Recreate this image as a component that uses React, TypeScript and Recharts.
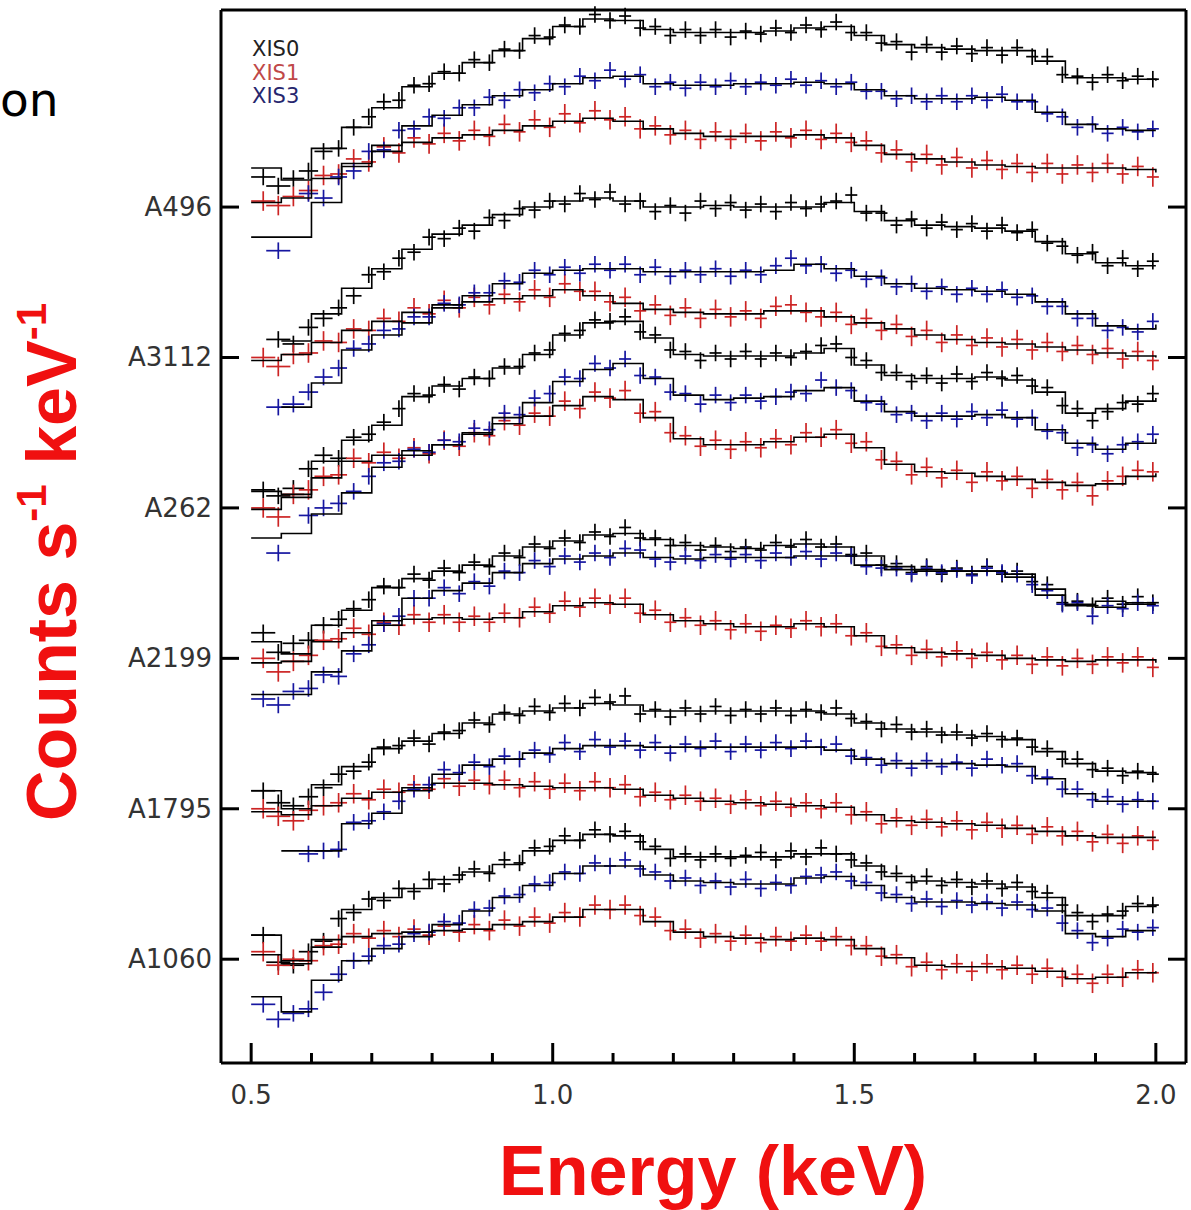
import React from "react"
import { ComposedChart, Scatter, Line, XAxis, YAxis, ErrorBar } from "recharts"

// energy grid of the data bins (keV) and of the model steps
const ENERGY = [
  0.52, 0.545, 0.57, 0.595, 0.62, 0.645, 0.67, 0.695, 0.72, 0.745,
  0.77, 0.795, 0.82, 0.845, 0.87, 0.895, 0.92, 0.945, 0.97, 0.995,
  1.02, 1.045, 1.07, 1.095, 1.12, 1.145, 1.17, 1.195, 1.22, 1.245,
  1.27, 1.295, 1.32, 1.345, 1.37, 1.395, 1.42, 1.445, 1.47, 1.495,
  1.52, 1.545, 1.57, 1.595, 1.62, 1.645, 1.67, 1.695, 1.72, 1.745,
  1.77, 1.795, 1.82, 1.845, 1.87, 1.895, 1.92, 1.945, 1.97, 1.995,
]
// half width of each energy bin (keV)
const BIN_HALF = [
  0.02, 0.02, 0.018, 0.016, 0.015, 0.014, 0.013, 0.012, 0.012, 0.011,
  0.011, 0.011, 0.011, 0.011, 0.01, 0.01, 0.01, 0.01, 0.01, 0.01,
  0.01, 0.01, 0.01, 0.01, 0.01, 0.01, 0.01, 0.01, 0.01, 0.01,
  0.01, 0.01, 0.01, 0.01, 0.01, 0.01, 0.01, 0.01, 0.01, 0.01,
  0.01, 0.01, 0.01, 0.01, 0.01, 0.01, 0.01, 0.01, 0.01, 0.01,
  0.01, 0.01, 0.01, 0.01, 0.01, 0.01, 0.01, 0.01, 0.01, 0.01,
]
const MODEL_ENERGY = [
  0.5, 0.55, 0.6, 0.65, 0.7, 0.75, 0.8, 0.85, 0.9, 0.95,
  1.0, 1.05, 1.1, 1.15, 1.2, 1.25, 1.3, 1.35, 1.4, 1.45,
  1.5, 1.55, 1.6, 1.65, 1.7, 1.75, 1.8, 1.85, 1.9, 1.95, 2.0,
]

const CLUSTERS = ["A1060", "A1795", "A2199", "A262", "A3112", "A496"]
const Y_TICKS = [1, 2, 3, 4, 5, 6] // offset of each cluster spectrum
const X_TICKS = [0.5, 0.6, 0.7, 0.8, 0.9, 1.0, 1.1, 1.2, 1.3, 1.4, 1.5, 1.6, 1.7, 1.8, 1.9, 2.0]
const X_MAJOR = [0.5, 1.0, 1.5, 2.0]
const X_LABELS = ["0.5", "1.0", "1.5", "2.0"]

const DETECTORS = ["XIS0", "XIS1", "XIS3"]
const DET_COLORS = ["#000000", "#cc2424", "#1616a0"]
const LEGEND_COLORS = ["#222222", "#c04848", "#26266e"]
const ERR_Y = [0.055, 0.065, 0.055]

// spectra, relative to the cluster offset (null = no bin)
const A1060_XIS0 = [0.16, -0.02, -0.04, 0.05, 0.12, 0.27, 0.31, 0.40, 0.39, 0.47, 0.45, 0.53, 0.50, 0.56, 0.60, 0.57, 0.66, 0.64, 0.74, 0.75, 0.82, 0.79, 0.86, 0.83, 0.85, 0.78, 0.75, 0.67, 0.70, 0.66, 0.70, 0.67, 0.69, 0.71, 0.66, 0.72, 0.68, 0.74, 0.70, 0.66, 0.64, 0.58, 0.57, 0.51, 0.55, 0.49, 0.53, 0.48, 0.52, 0.47, 0.51, 0.45, 0.44, 0.36, 0.31, 0.25, 0.30, 0.32, 0.37, 0.36]
const A1060_XIS1 = [0.05, -0.04, 0.00, -0.01, 0.09, 0.10, 0.17, 0.14, 0.19, 0.15, 0.20, 0.16, 0.22, 0.18, 0.23, 0.19, 0.26, 0.22, 0.28, 0.24, 0.31, 0.28, 0.36, 0.33, 0.36, 0.29, 0.28, 0.19, 0.20, 0.14, 0.17, 0.12, 0.16, 0.11, 0.15, 0.12, 0.16, 0.12, 0.15, 0.09, 0.09, 0.02, 0.03, -0.05, -0.02, -0.07, -0.03, -0.08, -0.03, -0.07, -0.04, -0.10, -0.06, -0.12, -0.10, -0.16, -0.10, -0.12, -0.07, -0.09]
const A1060_XIS3 = [-0.30, -0.40, -0.36, -0.33, -0.22, -0.10, -0.01, 0.02, 0.09, 0.10, 0.17, 0.18, 0.25, 0.24, 0.33, 0.34, 0.42, 0.43, 0.50, 0.51, 0.58, 0.57, 0.64, 0.62, 0.66, 0.60, 0.58, 0.52, 0.54, 0.49, 0.52, 0.48, 0.53, 0.47, 0.51, 0.49, 0.55, 0.56, 0.58, 0.52, 0.51, 0.44, 0.43, 0.37, 0.40, 0.35, 0.39, 0.36, 0.38, 0.34, 0.38, 0.33, 0.34, 0.24, 0.19, 0.11, 0.14, 0.20, 0.18, 0.21]

const A1795_XIS0 = [0.12, 0.04, 0.02, 0.08, 0.14, 0.23, 0.25, 0.31, 0.41, 0.42, 0.47, 0.43, 0.51, 0.52, 0.59, 0.56, 0.64, 0.62, 0.68, 0.64, 0.70, 0.67, 0.74, 0.71, 0.75, 0.63, 0.66, 0.61, 0.67, 0.63, 0.68, 0.62, 0.66, 0.63, 0.67, 0.62, 0.66, 0.64, 0.67, 0.60, 0.58, 0.53, 0.56, 0.51, 0.53, 0.49, 0.51, 0.47, 0.50, 0.46, 0.47, 0.41, 0.40, 0.33, 0.33, 0.26, 0.27, 0.22, 0.25, 0.23]
const A1795_XIS1 = [0.00, -0.05, -0.08, -0.01, 0.02, 0.04, 0.10, 0.06, 0.13, 0.11, 0.16, 0.13, 0.20, 0.15, 0.19, 0.16, 0.19, 0.14, 0.18, 0.13, 0.17, 0.12, 0.18, 0.14, 0.16, 0.08, 0.11, 0.06, 0.09, 0.05, 0.07, 0.03, 0.06, 0.02, 0.05, 0.01, 0.04, 0.00, 0.04, -0.04, -0.02, -0.10, -0.06, -0.11, -0.07, -0.12, -0.08, -0.14, -0.09, -0.13, -0.11, -0.17, -0.12, -0.18, -0.15, -0.22, -0.17, -0.23, -0.18, -0.21]
const A1795_XIS3 = [null, null, null, -0.30, -0.28, -0.27, -0.09, -0.08, -0.02, 0.05, 0.13, 0.16, 0.26, 0.24, 0.31, 0.28, 0.35, 0.33, 0.39, 0.36, 0.44, 0.38, 0.46, 0.41, 0.45, 0.39, 0.44, 0.37, 0.43, 0.40, 0.45, 0.38, 0.43, 0.39, 0.44, 0.40, 0.45, 0.41, 0.43, 0.35, 0.34, 0.29, 0.32, 0.27, 0.32, 0.28, 0.31, 0.27, 0.33, 0.29, 0.30, 0.22, 0.21, 0.13, 0.13, 0.06, 0.08, 0.03, 0.06, 0.05]

const A2199_XIS0 = [0.17, 0.04, 0.10, 0.12, 0.22, 0.26, 0.33, 0.39, 0.48, 0.47, 0.56, 0.52, 0.60, 0.57, 0.64, 0.61, 0.70, 0.67, 0.76, 0.73, 0.80, 0.77, 0.84, 0.81, 0.87, 0.80, 0.80, 0.75, 0.77, 0.72, 0.75, 0.71, 0.74, 0.72, 0.77, 0.74, 0.79, 0.74, 0.76, 0.69, 0.70, 0.62, 0.63, 0.57, 0.61, 0.56, 0.60, 0.56, 0.61, 0.56, 0.58, 0.51, 0.49, 0.37, 0.38, 0.35, 0.40, 0.36, 0.41, 0.37]
const A2199_XIS1 = [0.00, -0.09, -0.02, 0.02, 0.12, 0.13, 0.20, 0.16, 0.24, 0.22, 0.29, 0.24, 0.29, 0.24, 0.28, 0.24, 0.30, 0.27, 0.34, 0.30, 0.38, 0.34, 0.40, 0.36, 0.40, 0.30, 0.32, 0.24, 0.27, 0.22, 0.25, 0.19, 0.23, 0.18, 0.22, 0.20, 0.25, 0.21, 0.23, 0.15, 0.17, 0.08, 0.09, 0.02, 0.06, 0.01, 0.05, 0.00, 0.04, -0.01, 0.02, -0.04, 0.01, -0.05, 0.00, -0.04, 0.01, -0.03, 0.01, -0.06]
const A2199_XIS3 = [-0.27, -0.31, -0.22, -0.20, -0.11, -0.12, 0.03, 0.09, 0.23, 0.28, 0.40, 0.40, 0.47, 0.43, 0.51, 0.48, 0.58, 0.57, 0.65, 0.61, 0.68, 0.64, 0.70, 0.67, 0.73, 0.72, 0.66, 0.64, 0.68, 0.65, 0.69, 0.66, 0.69, 0.65, 0.70, 0.67, 0.71, 0.66, 0.70, 0.68, 0.61, 0.60, 0.60, 0.56, 0.60, 0.57, 0.59, 0.55, 0.60, 0.57, 0.56, 0.49, 0.45, 0.36, 0.37, 0.28, 0.35, 0.33, 0.37, 0.35]

const A262_XIS0 = [0.12, 0.08, 0.13, 0.26, 0.35, 0.33, 0.47, 0.49, 0.57, 0.66, 0.76, 0.75, 0.82, 0.79, 0.87, 0.86, 0.94, 0.94, 1.03, 1.05, 1.16, 1.18, 1.25, 1.24, 1.27, 1.17, 1.15, 1.05, 1.04, 0.98, 1.03, 0.99, 1.04, 0.99, 1.03, 1.00, 1.04, 1.08, 1.09, 1.00, 0.98, 0.90, 0.90, 0.84, 0.88, 0.83, 0.89, 0.84, 0.90, 0.86, 0.88, 0.81, 0.80, 0.68, 0.66, 0.58, 0.64, 0.70, 0.69, 0.76]
const A262_XIS1 = [0.00, -0.06, 0.09, 0.12, 0.21, 0.22, 0.33, 0.30, 0.37, 0.33, 0.40, 0.36, 0.45, 0.41, 0.50, 0.48, 0.58, 0.55, 0.63, 0.61, 0.71, 0.66, 0.77, 0.73, 0.78, 0.63, 0.64, 0.50, 0.48, 0.41, 0.45, 0.39, 0.44, 0.40, 0.46, 0.42, 0.50, 0.47, 0.52, 0.43, 0.44, 0.32, 0.31, 0.22, 0.27, 0.20, 0.25, 0.17, 0.24, 0.18, 0.21, 0.13, 0.19, 0.12, 0.17, 0.08, 0.18, 0.21, 0.25, 0.24]
const A262_XIS3 = [null, -0.30, null, -0.05, 0.00, 0.03, 0.11, 0.21, 0.30, 0.31, 0.39, 0.37, 0.45, 0.44, 0.53, 0.52, 0.63, 0.62, 0.73, 0.76, 0.87, 0.86, 0.96, 0.93, 0.99, 0.88, 0.87, 0.77, 0.76, 0.69, 0.75, 0.70, 0.75, 0.71, 0.74, 0.77, 0.76, 0.85, 0.80, 0.78, 0.70, 0.69, 0.62, 0.63, 0.58, 0.63, 0.59, 0.64, 0.60, 0.65, 0.59, 0.60, 0.51, 0.50, 0.40, 0.42, 0.36, 0.42, 0.44, 0.49]

const A3112_XIS0 = [null, 0.12, 0.09, 0.20, 0.26, 0.33, 0.41, 0.55, 0.57, 0.66, 0.70, 0.80, 0.79, 0.86, 0.84, 0.93, 0.91, 0.99, 0.98, 1.04, 1.02, 1.09, 1.05, 1.10, 1.02, 1.04, 0.97, 1.01, 0.96, 1.04, 0.99, 1.03, 0.98, 1.02, 0.97, 1.03, 0.99, 1.02, 1.04, 1.08, 0.96, 0.96, 0.88, 0.92, 0.86, 0.90, 0.85, 0.89, 0.84, 0.88, 0.83, 0.85, 0.76, 0.74, 0.68, 0.70, 0.61, 0.66, 0.59, 0.64]
const A3112_XIS1 = [0.00, -0.06, 0.02, 0.03, 0.11, 0.10, 0.19, 0.18, 0.26, 0.24, 0.33, 0.29, 0.38, 0.33, 0.40, 0.35, 0.42, 0.37, 0.45, 0.40, 0.49, 0.44, 0.44, 0.37, 0.40, 0.31, 0.35, 0.28, 0.33, 0.26, 0.32, 0.27, 0.31, 0.26, 0.34, 0.35, 0.30, 0.27, 0.30, 0.22, 0.26, 0.18, 0.22, 0.14, 0.18, 0.10, 0.15, 0.08, 0.13, 0.07, 0.12, 0.05, 0.10, 0.04, 0.08, 0.02, 0.06, -0.01, 0.04, -0.02]
const A3112_XIS3 = [null, -0.33, -0.31, -0.23, -0.13, -0.07, 0.06, 0.09, 0.18, 0.19, 0.27, 0.27, 0.36, 0.35, 0.43, 0.43, 0.51, 0.50, 0.58, 0.55, 0.60, 0.56, 0.62, 0.58, 0.62, 0.55, 0.60, 0.54, 0.58, 0.55, 0.59, 0.54, 0.58, 0.55, 0.61, 0.66, 0.61, 0.62, 0.56, 0.58, 0.52, 0.53, 0.47, 0.49, 0.44, 0.47, 0.42, 0.46, 0.42, 0.45, 0.40, 0.41, 0.34, 0.34, 0.26, 0.26, 0.18, 0.20, 0.17, 0.24]

const A496_XIS0 = [0.20, 0.14, 0.19, 0.24, 0.37, 0.39, 0.53, 0.60, 0.70, 0.71, 0.81, 0.82, 0.90, 0.89, 0.98, 0.96, 1.05, 1.04, 1.14, 1.13, 1.21, 1.20, 1.28, 1.24, 1.27, 1.19, 1.20, 1.14, 1.18, 1.14, 1.18, 1.13, 1.17, 1.15, 1.19, 1.16, 1.21, 1.18, 1.23, 1.16, 1.16, 1.09, 1.10, 1.03, 1.08, 1.03, 1.07, 1.02, 1.06, 1.01, 1.06, 1.00, 1.00, 0.88, 0.87, 0.83, 0.88, 0.84, 0.87, 0.85]
const A496_XIS1 = [0.04, 0.01, 0.07, 0.11, 0.21, 0.22, 0.32, 0.30, 0.40, 0.36, 0.46, 0.42, 0.49, 0.44, 0.51, 0.47, 0.55, 0.50, 0.58, 0.53, 0.62, 0.56, 0.64, 0.58, 0.60, 0.52, 0.54, 0.48, 0.51, 0.45, 0.50, 0.45, 0.49, 0.44, 0.50, 0.46, 0.51, 0.45, 0.49, 0.43, 0.44, 0.36, 0.38, 0.30, 0.35, 0.28, 0.33, 0.26, 0.31, 0.25, 0.29, 0.23, 0.29, 0.22, 0.28, 0.23, 0.29, 0.22, 0.27, 0.20]
const A496_XIS3 = [null, -0.29, null, 0.09, 0.06, 0.20, 0.24, 0.37, 0.38, 0.51, 0.52, 0.60, 0.59, 0.66, 0.66, 0.73, 0.71, 0.78, 0.76, 0.82, 0.80, 0.87, 0.84, 0.91, 0.85, 0.88, 0.80, 0.83, 0.79, 0.83, 0.80, 0.84, 0.80, 0.83, 0.81, 0.85, 0.81, 0.84, 0.80, 0.83, 0.77, 0.77, 0.72, 0.74, 0.70, 0.74, 0.70, 0.74, 0.71, 0.75, 0.70, 0.70, 0.62, 0.60, 0.53, 0.55, 0.49, 0.53, 0.50, 0.52]

// folded models (step per MODEL_ENERGY bin)
const A1060_XIS0_M = [0.16, -0.03, 0.13, 0.33, 0.41, 0.47, 0.53, 0.58, 0.63, 0.72, 0.79, 0.83, 0.82, 0.73, 0.68, 0.68, 0.68, 0.68, 0.70, 0.70, 0.62, 0.55, 0.52, 0.51, 0.50, 0.48, 0.41, 0.29, 0.29, 0.35, 0.36]
const A1060_XIS1_M = [0.03, -0.01, 0.08, 0.15, 0.17, 0.18, 0.19, 0.20, 0.23, 0.25, 0.28, 0.33, 0.33, 0.25, 0.18, 0.15, 0.14, 0.13, 0.14, 0.13, 0.07, 0.01, -0.04, -0.05, -0.05, -0.06, -0.08, -0.13, -0.12, -0.09, -0.08]
const A1060_XIS3_M = [-0.25, -0.35, -0.14, -0.01, 0.07, 0.15, 0.23, 0.32, 0.41, 0.49, 0.57, 0.62, 0.62, 0.56, 0.52, 0.51, 0.50, 0.50, 0.54, 0.55, 0.49, 0.41, 0.38, 0.38, 0.37, 0.36, 0.32, 0.17, 0.15, 0.19, 0.19]

const A1795_XIS0_M = [0.12, 0.00, 0.16, 0.28, 0.40, 0.45, 0.50, 0.57, 0.63, 0.65, 0.67, 0.70, 0.69, 0.65, 0.65, 0.65, 0.65, 0.65, 0.65, 0.63, 0.57, 0.53, 0.51, 0.49, 0.48, 0.46, 0.38, 0.30, 0.25, 0.24, 0.23]
const A1795_XIS1_M = [-0.02, -0.04, 0.02, 0.07, 0.11, 0.14, 0.17, 0.17, 0.16, 0.15, 0.14, 0.14, 0.13, 0.09, 0.07, 0.05, 0.04, 0.03, 0.02, 0.01, -0.04, -0.08, -0.09, -0.10, -0.11, -0.13, -0.15, -0.18, -0.19, -0.19, -0.19]
const A1795_XIS3_M = [null, -0.28, -0.28, -0.10, -0.03, 0.12, 0.23, 0.29, 0.33, 0.37, 0.40, 0.42, 0.42, 0.41, 0.41, 0.41, 0.41, 0.41, 0.41, 0.39, 0.33, 0.30, 0.30, 0.30, 0.29, 0.28, 0.20, 0.10, 0.05, 0.05, 0.05]

const A2199_XIS0_M = [0.11, 0.03, 0.22, 0.32, 0.47, 0.53, 0.58, 0.62, 0.68, 0.74, 0.78, 0.82, 0.83, 0.79, 0.75, 0.74, 0.73, 0.75, 0.76, 0.74, 0.68, 0.61, 0.59, 0.58, 0.58, 0.56, 0.46, 0.36, 0.38, 0.37, 0.37]
const A2199_XIS1_M = [-0.03, -0.02, 0.11, 0.17, 0.22, 0.26, 0.27, 0.26, 0.27, 0.31, 0.35, 0.37, 0.36, 0.29, 0.25, 0.23, 0.21, 0.21, 0.23, 0.21, 0.15, 0.07, 0.04, 0.03, 0.02, 0.00, -0.01, -0.02, -0.01, -0.01, -0.03]
const A2199_XIS3_M = [-0.24, -0.24, -0.09, 0.05, 0.25, 0.40, 0.45, 0.50, 0.57, 0.63, 0.66, 0.68, 0.70, 0.67, 0.66, 0.67, 0.67, 0.67, 0.68, 0.68, 0.62, 0.59, 0.58, 0.58, 0.58, 0.54, 0.42, 0.35, 0.34, 0.36, 0.36]

const A262_XIS0_M = [0.11, 0.09, 0.31, 0.45, 0.55, 0.74, 0.81, 0.86, 0.93, 1.02, 1.15, 1.23, 1.24, 1.13, 1.02, 1.01, 1.01, 1.01, 1.03, 1.06, 0.95, 0.88, 0.86, 0.86, 0.87, 0.85, 0.77, 0.63, 0.66, 0.71, 0.73]
const A262_XIS1_M = [-0.01, 0.07, 0.20, 0.31, 0.35, 0.38, 0.42, 0.49, 0.56, 0.61, 0.68, 0.74, 0.72, 0.60, 0.46, 0.42, 0.42, 0.44, 0.47, 0.49, 0.40, 0.29, 0.24, 0.23, 0.21, 0.19, 0.17, 0.15, 0.16, 0.21, 0.23]
const A262_XIS3_M = [-0.20, -0.17, -0.04, 0.10, 0.27, 0.35, 0.42, 0.50, 0.60, 0.70, 0.84, 0.92, 0.96, 0.86, 0.75, 0.72, 0.73, 0.74, 0.78, 0.80, 0.71, 0.64, 0.61, 0.61, 0.62, 0.60, 0.52, 0.43, 0.39, 0.43, 0.46]

const A3112_XIS0_M = [null, 0.11, 0.29, 0.46, 0.59, 0.72, 0.82, 0.88, 0.95, 1.00, 1.04, 1.06, 1.04, 1.00, 1.00, 1.01, 1.00, 1.00, 1.00, 1.03, 0.97, 0.91, 0.88, 0.87, 0.86, 0.84, 0.77, 0.69, 0.63, 0.61, 0.61]
const A3112_XIS1_M = [-0.02, 0.02, 0.10, 0.18, 0.24, 0.30, 0.35, 0.37, 0.39, 0.41, 0.45, 0.41, 0.36, 0.32, 0.30, 0.29, 0.29, 0.31, 0.31, 0.27, 0.23, 0.19, 0.15, 0.12, 0.10, 0.09, 0.07, 0.05, 0.03, 0.01, 0.00]
const A3112_XIS3_M = [null, -0.33, -0.17, 0.05, 0.15, 0.23, 0.33, 0.41, 0.49, 0.56, 0.58, 0.59, 0.59, 0.57, 0.57, 0.57, 0.57, 0.58, 0.62, 0.59, 0.54, 0.49, 0.46, 0.45, 0.44, 0.42, 0.37, 0.29, 0.21, 0.19, 0.22]

const A496_XIS0_M = [0.26, 0.18, 0.39, 0.53, 0.66, 0.80, 0.89, 0.96, 1.04, 1.12, 1.20, 1.25, 1.24, 1.18, 1.16, 1.16, 1.16, 1.17, 1.19, 1.20, 1.14, 1.08, 1.06, 1.05, 1.04, 1.04, 0.97, 0.86, 0.86, 0.85, 0.84]
const A496_XIS1_M = [0.03, 0.06, 0.19, 0.29, 0.37, 0.43, 0.46, 0.48, 0.51, 0.54, 0.57, 0.59, 0.57, 0.52, 0.49, 0.47, 0.47, 0.47, 0.48, 0.46, 0.41, 0.35, 0.32, 0.30, 0.28, 0.27, 0.26, 0.26, 0.26, 0.25, 0.23]
const A496_XIS3_M = [-0.20, -0.20, 0.03, 0.27, 0.41, 0.54, 0.61, 0.68, 0.74, 0.78, 0.82, 0.86, 0.87, 0.82, 0.81, 0.81, 0.82, 0.82, 0.83, 0.82, 0.78, 0.74, 0.72, 0.72, 0.73, 0.71, 0.63, 0.55, 0.52, 0.51, 0.51]

const SPECTRA = [
  [A1060_XIS0, A1060_XIS1, A1060_XIS3],
  [A1795_XIS0, A1795_XIS1, A1795_XIS3],
  [A2199_XIS0, A2199_XIS1, A2199_XIS3],
  [A262_XIS0, A262_XIS1, A262_XIS3],
  [A3112_XIS0, A3112_XIS1, A3112_XIS3],
  [A496_XIS0, A496_XIS1, A496_XIS3],
]
const MODELS = [
  [A1060_XIS0_M, A1060_XIS1_M, A1060_XIS3_M],
  [A1795_XIS0_M, A1795_XIS1_M, A1795_XIS3_M],
  [A2199_XIS0_M, A2199_XIS1_M, A2199_XIS3_M],
  [A262_XIS0_M, A262_XIS1_M, A262_XIS3_M],
  [A3112_XIS0_M, A3112_XIS1_M, A3112_XIS3_M],
  [A496_XIS0_M, A496_XIS1_M, A496_XIS3_M],
]

const X_DOMAIN = [0.45, 2.05]
const Y_DOMAIN = [0.31, 7.31]
const AXIS_LINE = { stroke: "#000", strokeWidth: 3 }
const TICK_FONT = "DejaVu Sans, sans-serif"

const spectra = SPECTRA.flatMap((dets, c) =>
  dets.map((vals, d) => ({
    key: `${CLUSTERS[c]}-${DETECTORS[d]}`,
    color: DET_COLORS[d],
    points: ENERGY.flatMap((e, i) =>
      vals[i] == null ? [] : [{ x: e, y: (vals[i] as number) + Y_TICKS[c], ex: BIN_HALF[i], ey: ERR_Y[d] }]
    ),
  }))
)

const models = MODELS.flatMap((dets, c) =>
  dets.map((vals, d) => ({
    key: `${CLUSTERS[c]}-${DETECTORS[d]}-model`,
    points: MODEL_ENERGY.map((e, j) => ({ x: e, y: vals[j] == null ? null : (vals[j] as number) + Y_TICKS[c] })),
  }))
)

const BottomTick = (props: any) => {
  const { x, y, payload } = props
  const idx = X_MAJOR.indexOf(payload.value)
  return (
    <g>
      <line x1={x} x2={x} y1={y} y2={y - (idx >= 0 ? 20 : 10)} stroke="#000" strokeWidth={3} />
      {idx >= 0 && (
        <text x={x} y={y + 41} textAnchor="middle" fontSize={26} fontFamily={TICK_FONT} fill="#333">
          {X_LABELS[idx]}
        </text>
      )}
    </g>
  )
}

const TopTick = (props: any) => {
  const { x, y, payload } = props
  const major = X_MAJOR.indexOf(payload.value) >= 0
  return <line x1={x} x2={x} y1={y} y2={y + (major ? 20 : 10)} stroke="#000" strokeWidth={3} />
}

const LeftTick = (props: any) => {
  const { x, y, payload } = props
  return (
    <g>
      <line x1={x} x2={x + 18} y1={y} y2={y} stroke="#000" strokeWidth={3} />
      <text x={x - 9} y={y + 9} textAnchor="end" fontSize={26} fontFamily={TICK_FONT} fill="#333">
        {CLUSTERS[Y_TICKS.indexOf(payload.value)]}
      </text>
    </g>
  )
}

const RightTick = (props: any) => {
  const { x, y } = props
  return <line x1={x - 18} x2={x} y1={y} y2={y} stroke="#000" strokeWidth={3} />
}

const noMarker = () => <g />

export default function App() {
  return (
    <div style={{ position: "absolute", left: 0, top: 0, width: 1191, height: 1210, background: "#fff", overflow: "hidden" }}>
      <div style={{ position: "absolute", left: 0, top: 76, fontFamily: "DejaVu Sans", fontSize: 47, lineHeight: 1, color: "#000" }}>
        on
      </div>

      <ComposedChart width={1191} height={1210} margin={{ top: 0, right: 0, bottom: 0, left: 0 }}>
        <XAxis
          dataKey="x" type="number" domain={X_DOMAIN} ticks={X_TICKS} interval={0} allowDataOverflow
          height={147} tickSize={0} tickMargin={0} tickLine={false} tick={BottomTick} axisLine={AXIS_LINE}
        />
        <XAxis
          xAxisId="top" orientation="top" type="number" domain={X_DOMAIN} ticks={X_TICKS} interval={0} allowDataOverflow
          height={10} tickSize={0} tickMargin={0} tickLine={false} tick={TopTick} axisLine={AXIS_LINE}
        />
        <YAxis
          dataKey="y" type="number" domain={Y_DOMAIN} ticks={Y_TICKS} interval={0} allowDataOverflow
          width={221} tickSize={0} tickMargin={0} tickLine={false} tick={LeftTick} axisLine={AXIS_LINE}
        />
        <YAxis
          yAxisId="right" orientation="right" type="number" domain={Y_DOMAIN} ticks={Y_TICKS} interval={0} allowDataOverflow
          width={5} tickSize={0} tickMargin={0} tickLine={false} tick={RightTick} axisLine={AXIS_LINE}
        />

        {spectra.map(s => (
          <Scatter key={s.key} data={s.points} shape={noMarker} isAnimationActive={false}>
            <ErrorBar dataKey="ex" direction="x" width={0} stroke={s.color} strokeWidth={1.7} isAnimationActive={false} />
            <ErrorBar dataKey="ey" direction="y" width={0} stroke={s.color} strokeWidth={1.7} isAnimationActive={false} />
          </Scatter>
        ))}

        {models.map(m => (
          <Line
            key={m.key} data={m.points} dataKey="y" type="stepAfter" stroke="#000" strokeWidth={1.6}
            dot={false} activeDot={false} isAnimationActive={false} connectNulls={false}
          />
        ))}
      </ComposedChart>

      <div style={{ position: "absolute", left: 252, top: 38, fontFamily: "DejaVu Sans", fontSize: 21, lineHeight: "23.5px" }}>
        {DETECTORS.map((d, i) => (
          <div key={d} style={{ color: LEGEND_COLORS[i] }}>{d}</div>
        ))}
      </div>

      <div
        style={{
          position: "absolute", left: 52, top: 562, height: 70, transform: "translate(-50%, -50%) rotate(-90deg)",
          whiteSpace: "nowrap", fontFamily: "Liberation Sans", fontWeight: "bold", fontSize: 70, lineHeight: "70px", color: "#f01010",
        }}
      >
        Counts s<span style={{ fontSize: 42, position: "relative", top: -30 }}>-1</span> keV
        <span style={{ fontSize: 42, position: "relative", top: -30 }}>-1</span>
      </div>

      <div
        style={{
          position: "absolute", left: 713, top: 1136, transform: "translateX(-50%)", whiteSpace: "nowrap",
          fontFamily: "Liberation Sans", fontWeight: "bold", fontSize: 70, lineHeight: 1, color: "#f01010",
        }}
      >
        Energy (keV)
      </div>
    </div>
  )
}
